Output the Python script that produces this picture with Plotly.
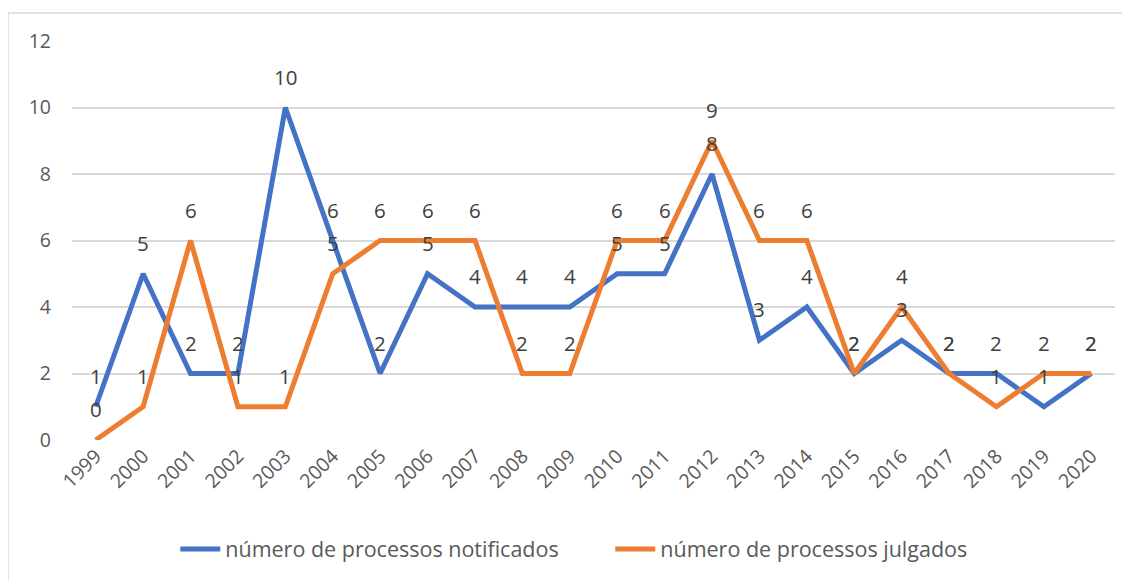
import plotly.graph_objects as go

anos = [str(a) for a in range(1999, 2021)]
notificados = [1, 5, 2, 2, 10, 6, 2, 5, 4, 4, 4, 5, 5, 8, 3, 4, 2, 3, 2, 2, 1, 2]
julgados = [0, 1, 6, 1, 1, 5, 6, 6, 6, 2, 2, 6, 6, 9, 6, 6, 2, 4, 2, 1, 2, 2]

AZUL = "#4472C4"
LARANJA = "#ED7D31"
FONTE = "Open Sans"

fig = go.Figure()

fig.add_trace(go.Scatter(x=anos, y=notificados, mode="lines",
                         line=dict(color=AZUL, width=5),
                         name="número de processos notificados"))
fig.add_trace(go.Scatter(x=anos, y=julgados, mode="lines",
                         line=dict(color=LARANJA, width=5),
                         name="número de processos julgados"))

# rótulos de dados acima de cada ponto (x = índice da categoria)
for serie in (notificados, julgados):
    for i, v in enumerate(serie):
        fig.add_annotation(x=i, y=v, text=str(v), showarrow=False, yshift=31,
                           font=dict(family=FONTE, size=20.5, color="#404040"))

# moldura do gráfico
fig.add_shape(type="rect", xref="paper", yref="paper",
              x0=-0.0614, x1=1.03, y0=-0.45, y1=1.070,
              line=dict(color="#D9D9D9", width=1.5), fillcolor="rgba(0,0,0,0)")

# a página desloca a figura 8 px (margem do body)
fig.update_layout(
    width=1122, height=573,
    paper_bgcolor="white", plot_bgcolor="white",
    margin=dict(l=64, r=15, t=33, b=141),
    font=dict(family=FONTE, size=20, color="#595959"),
    showlegend=True,
    legend=dict(orientation="h", x=0.099, xanchor="left", y=-0.273, yanchor="middle",
                font=dict(size=21.5, color="#595959"), itemwidth=40, tracegroupgap=0,
                entrywidth=380, entrywidthmode="pixels"),
    xaxis=dict(type="category", range=[-0.5, 21.5], tickangle=-45, showgrid=False,
               showline=False, ticks="", tickfont=dict(size=19.5)),
    yaxis=dict(range=[0, 12], dtick=2, showgrid=True, gridcolor="#D9D9D9", gridwidth=1.5,
               zeroline=False, showline=False, ticks="", ticklabelstandoff=20,
               tickfont=dict(size=19.5)),
)

fig.write_html("out.html")
